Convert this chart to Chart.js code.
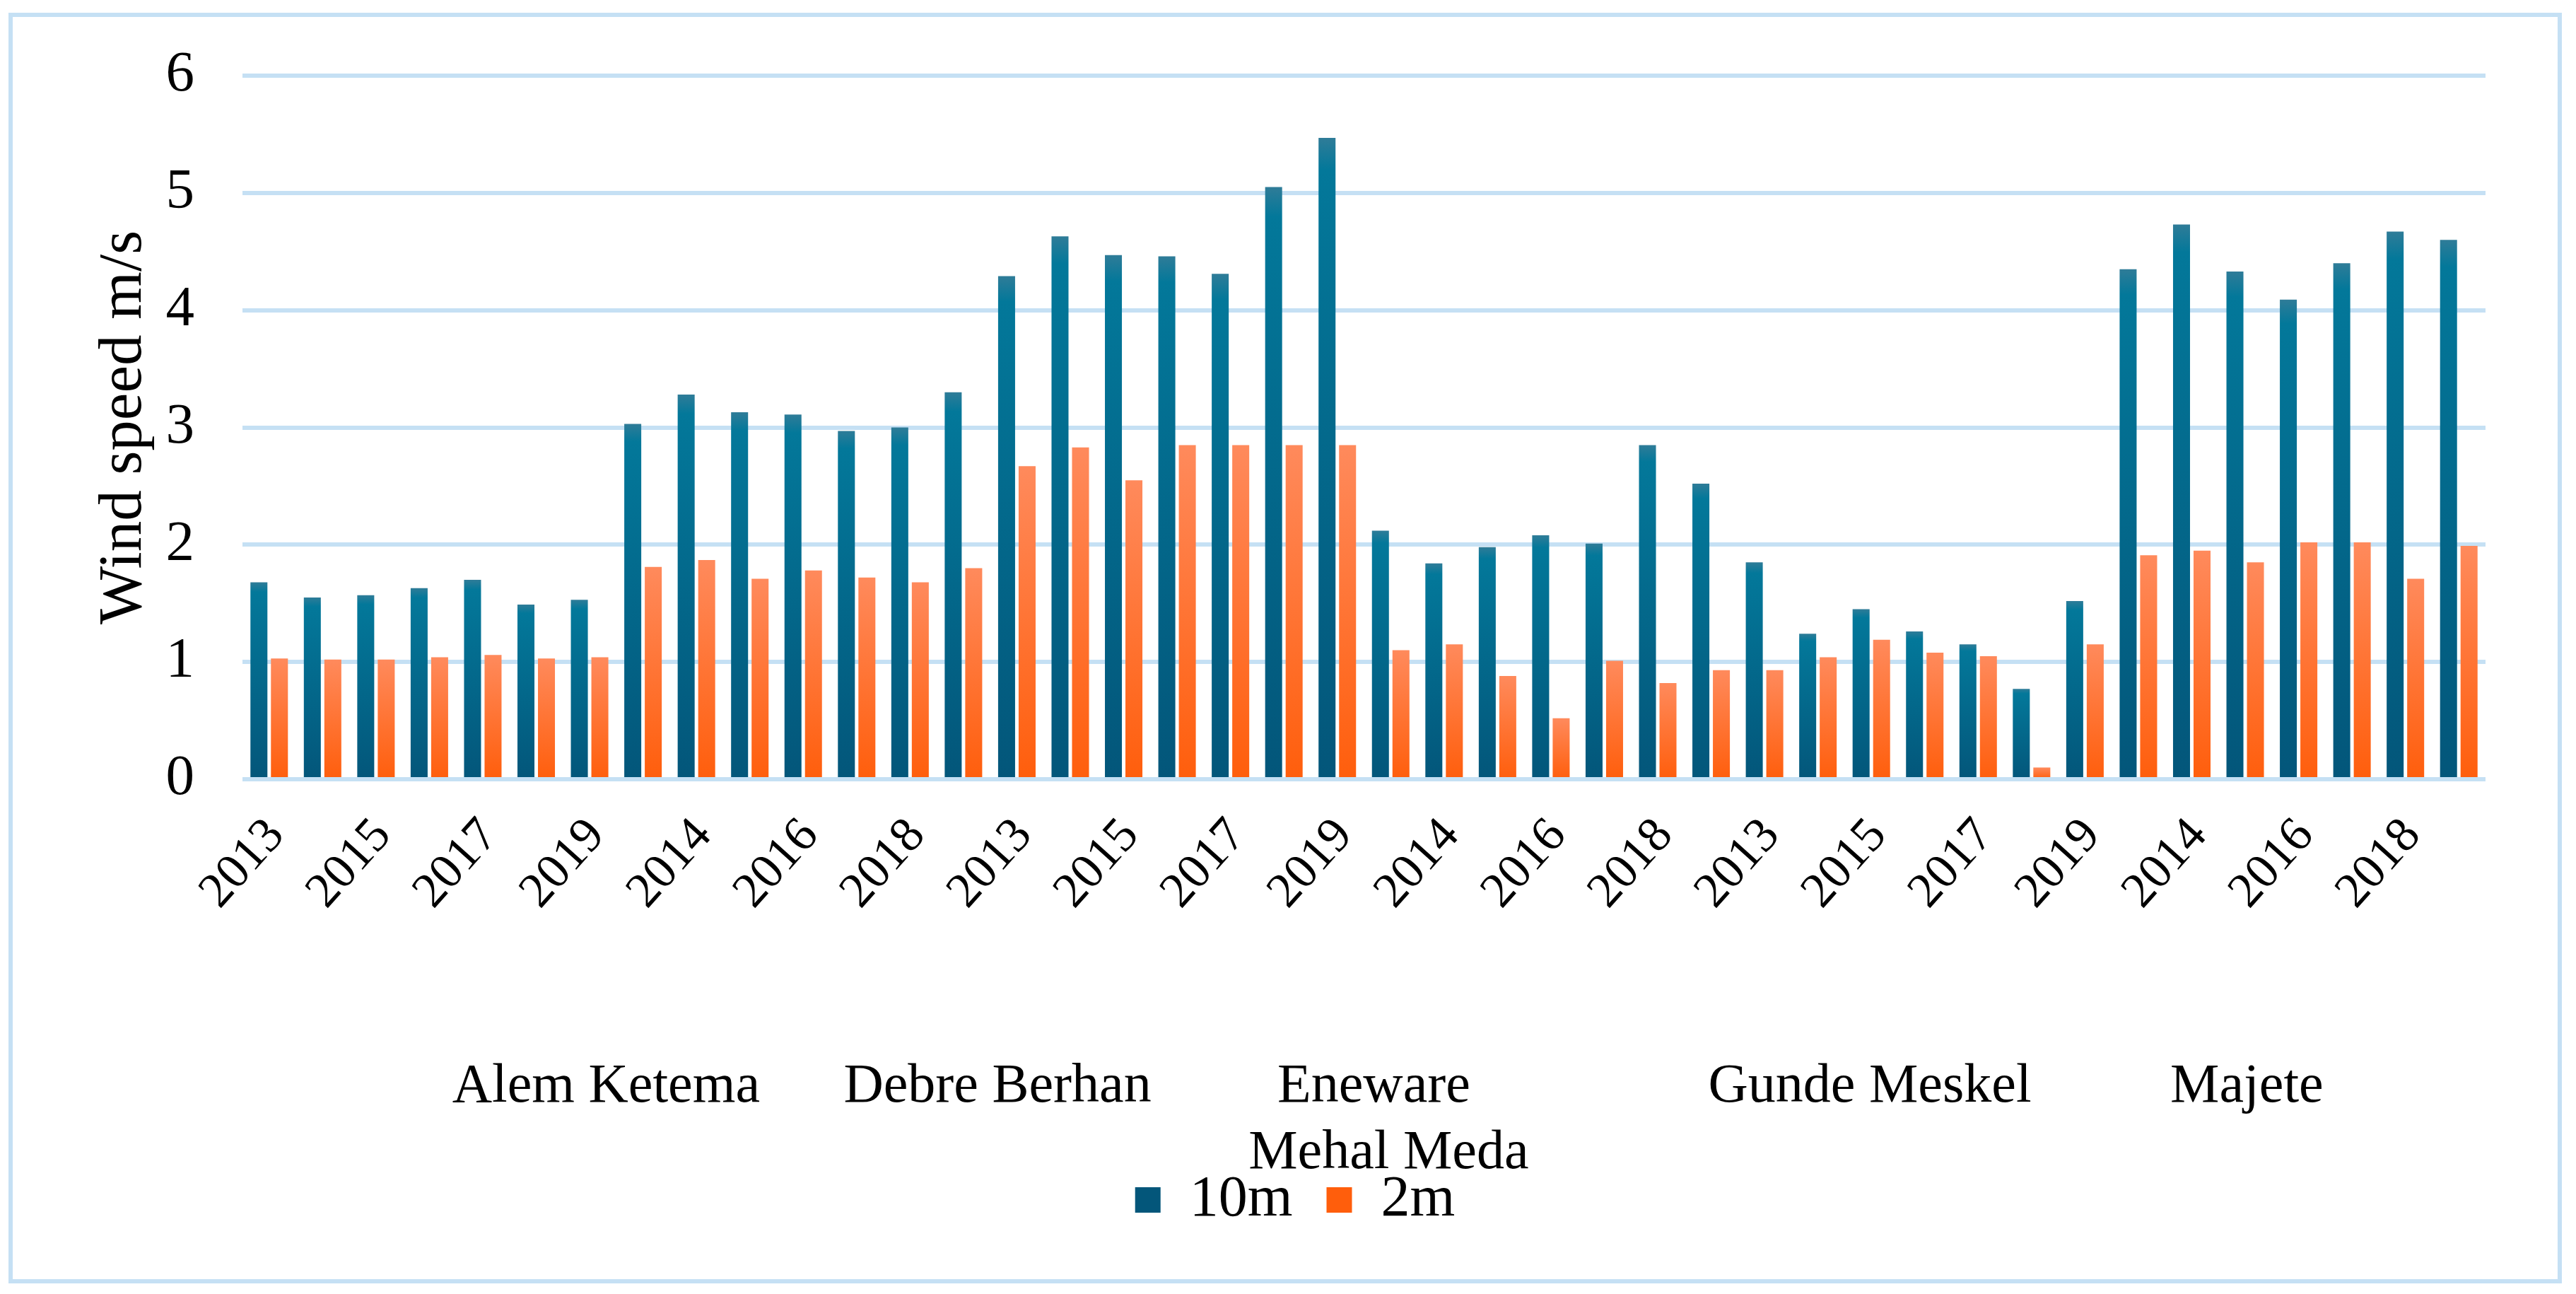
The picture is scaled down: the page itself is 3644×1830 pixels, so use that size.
<!DOCTYPE html>
<html>
<head>
<meta charset="utf-8">
<script src="https://cdn.jsdelivr.net/npm/chart.js@4.4.1/dist/chart.umd.min.js"></script>
<style>
  html, body { margin: 0; padding: 0; background: #fff; }
  #wrap { position: relative; width: 3644px; height: 1830px; }
  #frame { position: absolute; left: 12px; top: 18px; right: 20px; bottom: 15px; border: 6px solid #c5e0f4; box-sizing: border-box; pointer-events: none; }
  canvas { position: absolute; left: 0; top: 0; }
</style>
</head>
<body>
<div id="wrap">
  <canvas id="c" width="3644" height="1830"></canvas>
  <div id="frame"></div>
</div>
<script>
// --- data ---
const stations = ['Alem Ketema', 'Debre Berhan', 'Eneware', 'Gunde Meskel', 'Mehal Meda', 'Majete'];
const years = ['2013', '2014', '2015', '2016', '2017', '2018', '2019'];
const labels = stations.flatMap(() => years);

const wind10m = [
  1.68, 1.55, 1.57, 1.63, 1.70, 1.49, 1.53,
  3.03, 3.28, 3.13, 3.11, 2.97, 3.00, 3.30,
  4.29, 4.63, 4.47, 4.46, 4.31, 5.05, 5.47,
  2.12, 1.84, 1.98, 2.08, 2.01, 2.85, 2.52,
  1.85, 1.24, 1.45, 1.26, 1.15, 0.77, 1.52,
  4.35, 4.73, 4.33, 4.09, 4.40, 4.67, 4.60
];
const wind2m = [
  1.03, 1.02, 1.02, 1.04, 1.06, 1.03, 1.04,
  1.81, 1.87, 1.71, 1.78, 1.72, 1.68, 1.80,
  2.67, 2.83, 2.55, 2.85, 2.85, 2.85, 2.85,
  1.10, 1.15, 0.88, 0.52, 1.01, 0.82, 0.93,
  0.93, 1.04, 1.19, 1.08, 1.05, 0.10, 1.15,
  1.91, 1.95, 1.85, 2.02, 2.02, 1.71, 1.99
];
const yTicks = [0, 1, 2, 3, 4, 5, 6];

const FONT = '"Liberation Serif", serif';
const GRID = '#c5e0f4';

// per-bar vertical gradient
function barFill(stops, solid) {
  return (ctx) => {
    const chart = ctx.chart;
    if (!chart.chartArea) return solid;
    if (ctx.type !== 'data') {
      // legend swatch
      const hb = chart.legend && chart.legend.legendHitBoxes && chart.legend.legendHitBoxes[ctx.datasetIndex];
      const t = hb ? hb.top : 1650;
      const g = chart.ctx.createLinearGradient(0, t, 0, t + 90);
      stops.forEach(s => g.addColorStop(s[0], s[1]));
      return g;
    }
    const y = chart.scales.y;
    const top = y.getPixelForValue(ctx.parsed.y);
    const bottom = y.getPixelForValue(0);
    const g = chart.ctx.createLinearGradient(0, top, 0, bottom);
    stops.forEach(s => g.addColorStop(s[0], s[1]));
    return g;
  };
}
const blueStops = [[0, '#2f7c98'], [0.05, '#03789a'], [1, '#03567a']];
const orangeStops = [[0, '#ff8a5c'], [1, '#ff5e0c']];

// station names under the year labels (placed like the original, not centred on groups)
const stationTextPlugin = {
  id: 'stationText',
  beforeDraw(chart) {
    // centre the legend on the whole canvas, as in the original
    const lg = chart.legend;
    if (lg && !lg._shifted) {
      const dx = chart.width / 2 + 10 - (lg.left + lg.right) / 2;
      lg.left += dx; lg.right += dx; lg._shifted = true;
    }
  },
  afterDraw(chart) {
    const { ctx, chartArea } = chart;
    const w = chartArea.right - chartArea.left;
    const spots = [
      ['Alem Ketema', 0.1621, 436],
      ['Debre Berhan', 0.3366, 436],
      ['Eneware', 0.5044, 436],
      ['Gunde Meskel', 0.7255, 436],
      ['Majete', 0.8936, 436],
      ['Mehal Meda', 0.5110, 530]
    ];
    ctx.save();
    ctx.fillStyle = '#000';
    ctx.font = '78px ' + FONT;
    ctx.textAlign = 'center';
    ctx.textBaseline = 'middle';
    spots.forEach(([t, f, dy]) => {
      ctx.fillText(t, chartArea.left + f * w, chartArea.bottom + dy);
    });
    ctx.restore();
  }
};

new Chart(document.getElementById('c'), {
  type: 'bar',
  data: {
    labels,
    datasets: [
      { label: '10m', data: wind10m, backgroundColor: barFill(blueStops, '#03688c'), borderWidth: 0 },
      { label: '2m', data: wind2m, backgroundColor: barFill(orangeStops, '#ff7030'), borderWidth: 0 }
    ]
  },
  options: {
    responsive: false,
    animation: false,
    devicePixelRatio: 1,
    categoryPercentage: 0.768,
    barPercentage: 0.828,
    layout: { padding: { left: 0, right: 128, top: 107, bottom: 82 } },
    plugins: {
      legend: {
        position: 'bottom',
        labels: {
          font: { family: FONT, size: 82 },
          color: '#000',
          boxWidth: 36,
          boxHeight: 36,
          padding: 48
        }
      },
      tooltip: { enabled: false }
    },
    scales: {
      x: {
        grid: { display: false, drawTicks: false },
        border: { display: false },
        afterFit(axis) { axis.height = 506; },
        ticks: {
          autoSkip: false,
          maxRotation: 48,
          minRotation: 48,
          padding: 40,
          labelOffset: 10,
          color: '#000',
          font: { family: FONT, size: 70 },
          callback(v, i) { return i % 2 === 0 ? labels[i] : ''; }
        }
      },
      y: {
        min: 0,
        max: 6,
        afterFit(axis) { axis.width = 343; },
        afterBuildTicks(axis) { axis.ticks = yTicks.map(v => ({ value: v })); },
        grid: { color: GRID, lineWidth: 6, drawTicks: true, tickLength: 58, tickColor: 'rgba(0,0,0,0)' },
        border: { display: false },
        ticks: {
          padding: 10,
          color: '#000',
          font: { family: FONT, size: 81 }
        },
        title: {
          display: true,
          text: 'Wind speed m/s',
          color: '#000',
          font: { family: FONT, size: 87 },
          padding: { top: 124, bottom: 0 }
        }
      }
    }
  },
  plugins: [stationTextPlugin]
});
</script>
</body>
</html>
